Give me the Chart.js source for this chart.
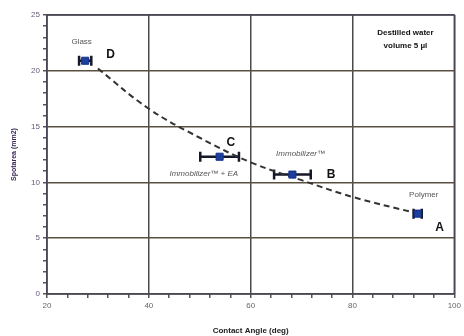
<!DOCTYPE html>
<html><head><meta charset="utf-8">
<script src="https://cdn.jsdelivr.net/npm/chart.js@4/dist/chart.umd.min.js"></script>
<style>html,body{margin:0;padding:0;background:#fff}#wrap{width:464px;height:336px}</style>
</head><body><div id="wrap"><canvas id="c" width="464" height="336"></canvas></div>
<script>
const contactAngle = [27.5, 53.9, 68.2, 92.8];
const spotArea = [20.9, 12.3, 10.7, 7.2];
const angleError = [1.2, 3.8, 3.6, 0.8];
const pointNames = ['Glass', 'Immobilizer™ + EA', 'Immobilizer™', 'Polymer'];
const pointLetters = ['D', 'C', 'B', 'A'];
const fitX = [30, 40, 50, 60, 70, 80, 92];
const fitY = [20.2, 16.6, 14.0, 11.8, 10.2, 8.7, 7.3];
const xTickLabels = [20, 40, 60, 80, 100];
const yTickLabels = [0, 5, 10, 15, 20, 25];
const boxText = ['Destilled water', 'volume 5 µl'];

// annotation anchors in data units
const nameAnchors = [[26.8, 22.6], [50.8, 10.8], [69.8, 12.6], [94.0, 8.9]];
const letterAnchors = [[32.5, 21.4], [56.1, 13.6], [75.8, 10.7], [97.1, 5.9]];
const boxAnchors = [[90.4, 23.4], [90.4, 22.2]];

const annot = {
  id: 'annot',
  beforeDatasetsDraw(chart) {
    const {ctx, scales: {x, y}} = chart;
    ctx.save();
    ctx.strokeStyle = '#141828';
    ctx.lineWidth = 2.5;
    contactAngle.forEach((cx, i) => {
      const py = y.getPixelForValue(spotArea[i]);
      const x1 = x.getPixelForValue(cx - angleError[i]);
      const x2 = x.getPixelForValue(cx + angleError[i]);
      ctx.beginPath();
      ctx.moveTo(x1, py); ctx.lineTo(x2, py);
      ctx.moveTo(x1, py - 5); ctx.lineTo(x1, py + 5);
      ctx.moveTo(x2, py - 5); ctx.lineTo(x2, py + 5);
      ctx.stroke();
    });
    ctx.restore();
  },
  afterDatasetsDraw(chart) {
    const {ctx, scales: {x, y}} = chart;
    ctx.save();
    ctx.textAlign = 'center';
    ctx.textBaseline = 'middle';
    ctx.fillStyle = '#555';
    pointNames.forEach((n, i) => {
      ctx.font = (i === 0 || i === 3 ? '' : 'italic ') + '8px "Liberation Sans", Arial, sans-serif';
      ctx.fillText(n, x.getPixelForValue(nameAnchors[i][0]), y.getPixelForValue(nameAnchors[i][1]));
    });
    ctx.fillStyle = '#111';
    ctx.font = 'bold 12px "Liberation Sans", Arial, sans-serif';
    pointLetters.forEach((l, i) => {
      ctx.fillText(l, x.getPixelForValue(letterAnchors[i][0]), y.getPixelForValue(letterAnchors[i][1]));
    });
    ctx.font = 'bold 8px "Liberation Sans", Arial, sans-serif';
    boxText.forEach((t, i) => {
      ctx.fillText(t, x.getPixelForValue(boxAnchors[i][0]), y.getPixelForValue(boxAnchors[i][1]));
    });
    const a = chart.chartArea;
    ctx.strokeStyle = '#4a4458';
    ctx.lineWidth = 1.5;
    ctx.strokeRect(a.left, a.top, a.right - a.left, a.bottom - a.top);
    ctx.restore();
  }
};

new Chart(document.getElementById('c'), {
  type: 'scatter',
  data: {
    datasets: [
      {
        label: 'fit',
        data: fitX.map((v, i) => ({x: v, y: fitY[i]})),
        showLine: true,
        borderColor: '#333',
        borderWidth: 2,
        borderDash: [6, 4],
        pointRadius: 0,
        tension: 0.4,
        order: 2
      },
      {
        label: 'data',
        data: contactAngle.map((v, i) => ({x: v, y: spotArea[i]})),
        pointStyle: 'rect',
        pointRadius: 5,
        backgroundColor: '#1d3f9e',
        borderColor: '#12308a',
        borderWidth: 1,
        order: 1
      }
    ]
  },
  options: {
    responsive: false,
    animation: false,
    layout: {padding: {left: 10, right: 7, top: 15, bottom: 0}},
    plugins: {legend: {display: false}, tooltip: {enabled: false}},
    scales: {
      x: {
        type: 'linear', min: 20, max: 100,
        afterFit(s) { s.height = 42; },
        ticks: {
          stepSize: 4, autoSkip: false, maxRotation: 0, padding: 3,
          color: '#666', font: {size: 8, family: '"Liberation Sans", Arial, sans-serif'},
          callback: v => xTickLabels.includes(v) ? String(v) : ''
        },
        grid: {
          color: c => (c.tick && c.tick.value % 20 === 0) ? '#4a4a4a' : 'rgba(0,0,0,0)',
          lineWidth: 1.5,
          tickColor: '#555', tickLength: 4, drawTicks: true
        },
        border: {display: false},
        title: {display: true, text: 'Contact Angle (deg)', color: '#222', font: {size: 8, weight: 'bold', family: '"Liberation Sans", Arial, sans-serif'}, padding: {top: 4, bottom: 0}}
      },
      y: {
        min: 0, max: 25,
        afterFit(s) { s.width = 37; },
        ticks: {
          stepSize: 1, autoSkip: false, padding: 3,
          color: '#6a5a7a', font: {size: 8, family: '"Liberation Sans", Arial, sans-serif'},
          callback: v => yTickLabels.includes(v) ? String(v) : ''
        },
        grid: {
          color: c => (c.tick && c.tick.value % 5 === 0) ? '#5a5040' : 'rgba(0,0,0,0)',
          lineWidth: 1.5,
          tickColor: '#555', tickLength: 4
        },
        border: {display: false},
        title: {display: true, text: 'Spotarea (mm2)', color: '#3a2a5a', font: {size: 7, weight: 'bold', family: '"Liberation Sans", Arial, sans-serif'}, padding: {top: 0, bottom: 4}}
      }
    }
  },
  plugins: [annot]
});
</script></body></html>
